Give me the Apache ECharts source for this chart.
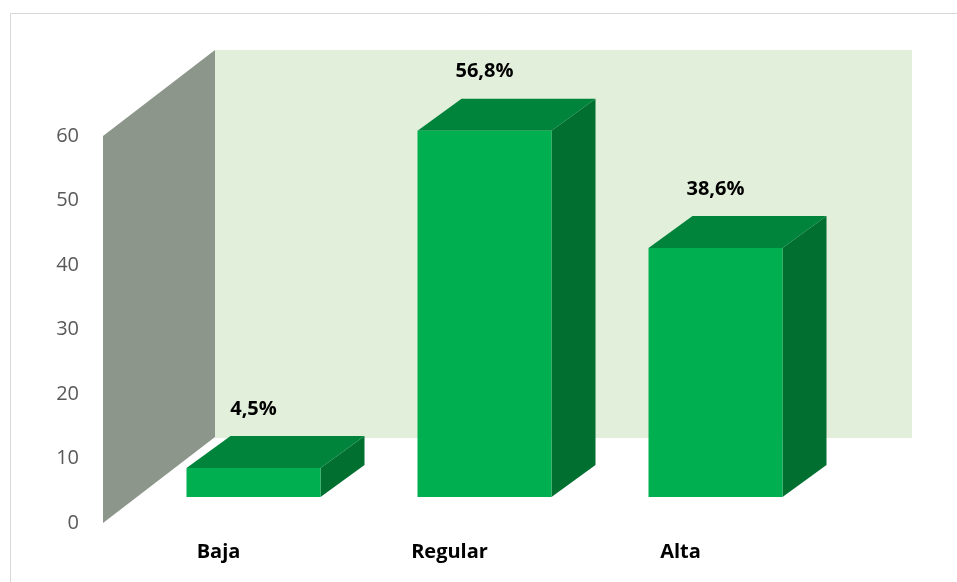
<!DOCTYPE html>
<html>
<head>
    <meta charset="utf-8">
    <title>Niveles</title>
    <script src="https://cdn.jsdelivr.net/npm/echarts@6/dist/echarts.min.js"></script>
    <style>
        html, body { margin: 0; padding: 0; background: #fff; }
    </style>
</head>
<body>
<div id="main" style="width: 957px;height:582px;"></div>
<script type="text/javascript">
    var categories = ['Baja', 'Regular', 'Alta'];
    var values = [4.5, 56.8, 38.6];
    var yTicks = [0, 10, 20, 30, 40, 50, 60];

    var myChart = echarts.init(document.getElementById('main'));

    // proyeccion 3D: la cara frontal de la barra esta algo metida hacia dentro
    var FRONT_DX = 35, FRONT_DY = -26;
    var DEPTH_DX = 44, DEPTH_DY = -32;
    var WALL_DX = 112, WALL_DY = -86;
    var BAR_W = 134;
    var txtFont = '"Open Sans", "Noto Sans", sans-serif';

    function fmt(v) {
        return v.toFixed(1).replace('.', ',') + '%';
    }

    function renderWalls(params, api) {
        var cs = params.coordSys;
        var x = cs.x, y = cs.y, h = cs.height, w = cs.width;
        return {
            type: 'group',
            children: [{
                type: 'rect',
                shape: {x: x + WALL_DX, y: y + WALL_DY, width: w + 4, height: h + 1},
                style: {fill: '#E2EFDA'}
            }, {
                type: 'polygon',
                shape: {points: [[x, y + h], [x, y], [x + WALL_DX, y + WALL_DY], [x + WALL_DX, y + h + WALL_DY]]},
                style: {fill: '#8C968A'}
            }]
        };
    }

    function renderBar(params, api) {
        var idx = api.value(0);
        var v = api.value(1);
        var p0 = api.coord([idx, 0]);
        var p1 = api.coord([idx, v]);
        var cx = p0[0] + FRONT_DX;
        var l = cx - BAR_W / 2, r = cx + BAR_W / 2;
        var b = p0[1] + FRONT_DY, t = p1[1] + FRONT_DY;
        return {
            type: 'group',
            children: [{
                type: 'polygon',
                shape: {points: [[r, t], [r + DEPTH_DX, t + DEPTH_DY], [r + DEPTH_DX, b + DEPTH_DY], [r, b]]},
                style: {fill: '#006F30'}
            }, {
                type: 'polygon',
                shape: {points: [[l, t], [r, t], [r + DEPTH_DX, t + DEPTH_DY], [l + DEPTH_DX, t + DEPTH_DY]]},
                style: {fill: '#00843C'}
            }, {
                type: 'rect',
                shape: {x: l, y: t, width: BAR_W, height: b - t},
                style: {fill: '#00B050'}
            }, {
                type: 'text',
                x: cx,
                y: t + DEPTH_DY - 27,
                style: {
                    text: fmt(v),
                    fill: '#000',
                    font: 'bold 20px ' + txtFont,
                    align: 'center',
                    verticalAlign: 'middle'
                }
            }]
        };
    }

    var option = {
        animation: false,
        backgroundColor: '#fff',
        graphic: [{
            type: 'rect',
            shape: {x: 10.5, y: 13.5, width: 1000, height: 1000},
            style: {fill: 'none', stroke: '#D9D9D9', lineWidth: 1},
            silent: true
        }],
        grid: {
            left: 103,
            right: 161,
            top: 136,
            bottom: 59,
            containLabel: false,
            outerBoundsMode: 'none'
        },
        xAxis: {
            type: 'category',
            data: categories,
            axisLine: {show: false},
            axisTick: {show: false},
            axisLabel: {
                color: '#000',
                fontWeight: 'bold',
                fontSize: 20,
                fontFamily: txtFont,
                margin: 19
            }
        },
        yAxis: {
            type: 'value',
            min: yTicks[0],
            max: yTicks[yTicks.length - 1],
            interval: 10,
            axisLine: {show: false},
            axisTick: {show: false},
            splitLine: {show: false},
            axisLabel: {
                color: '#595959',
                fontSize: 20,
                fontFamily: txtFont,
                margin: 24
            }
        },
        series: [{
            type: 'custom',
            z: 1,
            clip: false,
            silent: true,
            renderItem: renderWalls,
            data: [[0, 0]]
        }, {
            type: 'custom',
            z: 2,
            clip: false,
            renderItem: renderBar,
            data: values.map(function (v, i) { return [i, v]; })
        }]
    };

    myChart.setOption(option);
</script>
</body>
</html>
